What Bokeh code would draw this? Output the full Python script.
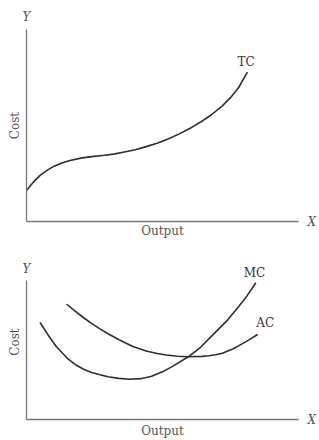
from bokeh.plotting import figure
from bokeh.models import Range1d, FixedTicker, Label, LinearAxis
from bokeh.layouts import column
from bokeh.embed import file_html
from bokeh.resources import INLINE

# Top chart: total cost curve (output, cost)
tc_x = [0.0, 0.25, 0.5, 0.75, 1.0, 1.3, 1.6, 2.0, 2.4, 2.8, 3.2, 3.6, 4.0, 4.4, 4.8,
        5.2, 5.6, 6.0, 6.4, 6.8, 7.2, 7.5, 7.8, 8.11]
tc_y = [1.61, 2.05, 2.40, 2.66, 2.87, 3.05, 3.18, 3.30, 3.38, 3.44, 3.51, 3.62, 3.74, 3.90, 4.08,
        4.30, 4.55, 4.84, 5.18, 5.56, 6.02, 6.45, 6.98, 7.75]

# Bottom chart: marginal cost and average cost curves
mc_x = [0.51, 0.8, 1.1, 1.49, 1.8, 2.1, 2.4, 2.7, 3.0, 3.4, 3.8, 4.2, 4.6, 5.0, 5.4,
        5.95, 6.4, 6.96, 7.4, 7.81, 8.1, 8.42]
mc_y = [6.92, 6.05, 5.22, 4.41, 3.93, 3.60, 3.37, 3.21, 3.07, 2.95, 2.89, 2.93, 3.10, 3.42, 3.85,
        4.50, 5.18, 6.29, 7.15, 8.13, 8.85, 9.77]
ac_x = [1.49, 1.8, 2.1, 2.4, 2.7, 3.0, 3.4, 3.91, 4.4, 4.8, 5.14, 5.55, 5.95, 6.45, 6.7,
        6.96, 7.2, 7.6, 7.81, 8.15, 8.48]
ac_y = [8.25, 7.75, 7.30, 6.88, 6.50, 6.15, 5.72, 5.24, 4.92, 4.74, 4.63, 4.54, 4.50, 4.53, 4.57,
        4.64, 4.76, 5.08, 5.30, 5.68, 6.08]

x_axis_label = "Output"
y_axis_label = "Cost"
x_name = "X"
y_name = "Y"

SERIF = "DejaVu Serif"
CURVE = "#2e2e2e"
AXIS = "#777777"
TEXT = "#555555"


def bare(ax):
    ax.major_tick_line_color = None
    ax.minor_tick_line_color = None
    ax.major_tick_out = 0
    ax.major_tick_in = 0
    ax.minor_tick_out = 0
    ax.minor_tick_in = 0


def make_fig(height, top, bottom, ymax, y_standoff, out_standoff):
    p = figure(width=319, height=height, output_backend="svg", toolbar_location=None,
               x_range=Range1d(0, 10), y_range=Range1d(0, ymax),
               min_border_left=26, min_border_right=19,
               min_border_top=top, min_border_bottom=bottom)
    p.grid.visible = False
    p.outline_line_color = None
    for ax in (p.xaxis[0], p.yaxis[0]):
        ax.ticker = FixedTicker(ticks=[])
        bare(ax)
        ax.major_label_standoff = 0
        ax.bounds = (0, 10)
        ax.axis_line_color = AXIS
        ax.axis_line_width = 1.3
        ax.axis_label_text_font = SERIF
        ax.axis_label_text_font_style = "normal"
        ax.axis_label_text_font_size = "12px"
        ax.axis_label_text_color = TEXT
    p.xaxis[0].axis_label = x_axis_label
    p.yaxis[0].axis_label = y_axis_label
    p.xaxis[0].axis_label_standoff = out_standoff
    p.yaxis[0].axis_label_standoff = 5

    # "Y" at the top of the vertical axis
    ya = LinearAxis(ticker=FixedTicker(ticks=[0]), major_label_overrides={0: y_name},
                    axis_line_color=None, major_label_standoff=y_standoff,
                    major_label_text_font=SERIF, major_label_text_font_style="italic",
                    major_label_text_font_size="12px", major_label_text_color=TEXT)
    bare(ya)
    p.add_layout(ya, "above")
    # "X" at the end of the horizontal axis
    xa = LinearAxis(ticker=FixedTicker(ticks=[0]), major_label_overrides={0: x_name},
                    axis_line_color=None, major_label_standoff=9,
                    major_label_text_font=SERIF, major_label_text_font_style="italic",
                    major_label_text_font_size="12px", major_label_text_color=TEXT)
    bare(xa)
    p.add_layout(xa, "right")
    return p


def curve_label(p, xs, ys, text, dx, dy):
    p.add_layout(Label(x=xs[-1], y=ys[-1], x_offset=dx, y_offset=dy, text=text,
                       text_align="center", text_baseline="middle", text_font=SERIF,
                       text_font_size="12px", text_color="#333333"))


def curve(p, xs, ys):
    p.line(xs, ys, line_color=CURVE, line_width=1.6, line_join="round", line_cap="round")


top = make_fig(240, 29, 18, 10, 6, 2)
curve(top, tc_x, tc_y)
curve_label(top, tc_x, tc_y, "TC", -1, 11)

bot = make_fig(200, 24, 17, 11.12, -11, 4)
curve(bot, mc_x, mc_y)
curve(bot, ac_x, ac_y)
curve_label(bot, mc_x, mc_y, "MC", -1, 10)
curve_label(bot, ac_x, ac_y, "AC", 8, 12)

p = column(top, bot)
open("out.html", "w").write(file_html(p, INLINE))
